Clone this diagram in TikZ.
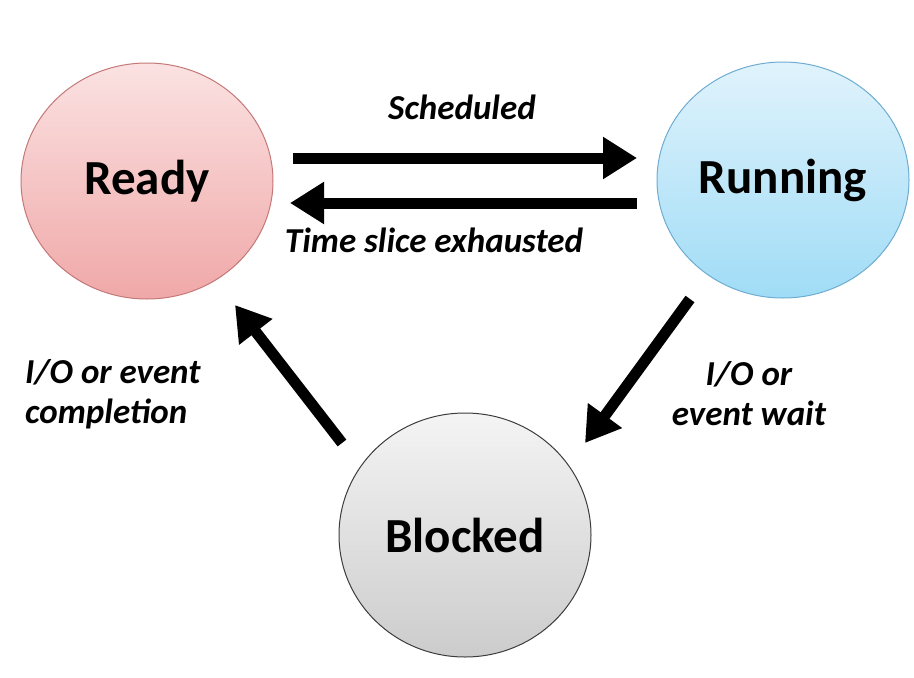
\documentclass[tikz,border=0pt]{standalone}
\usepackage{fontspec}
\setmainfont{Carlito}
\usetikzlibrary{arrows.meta,shapes.geometric}

\definecolor{readytop}{RGB}{251,226,226}
\definecolor{readybot}{RGB}{240,168,168}
\definecolor{readyline}{RGB}{196,120,120}
\definecolor{runtop}{RGB}{224,243,252}
\definecolor{runbot}{RGB}{160,220,246}
\definecolor{runline}{RGB}{110,172,210}
\definecolor{blocktop}{RGB}{244,244,244}
\definecolor{blockbot}{RGB}{204,204,204}
\definecolor{blockline}{RGB}{60,60,60}

\tikzset{
  state/.style={ellipse, draw, line width=1pt, inner sep=0pt,
    minimum width=252pt, minimum height=236pt,
    font=\fontsize{49}{55}\selectfont\bfseries},
  bigarrow/.style={line width=11pt, -{Triangle[length=34pt,width=40pt]}},
  lbl/.style={font=\fontsize{35}{40}\selectfont\bfseries\itshape, inner sep=0pt}
}

\begin{document}
\begin{tikzpicture}[x=1pt, y=-1pt]
    \useasboundingbox (0,0) rectangle (914,678);

    % the three states
    \node[state, draw=readyline, top color=readytop, bottom color=readybot] (ready) at (147,181) {Ready};
    \node[state, draw=runline, top color=runtop, bottom color=runbot] (running) at (783,180) {Running};
    \node[state, draw=blockline, top color=blocktop, bottom color=blockbot, minimum height=244pt] (blocked) at (465,535) {Blocked};

    % arrow ends
    \coordinate (schedA) at (293,158);
    \coordinate (schedB) at (637,158);
    \coordinate (sliceA) at (637,203);
    \coordinate (sliceB) at (290,203);
    \coordinate (waitA) at (690,299);
    \coordinate (waitB) at (585,443);
    \coordinate (doneA) at (342,443);
    \coordinate (doneB) at (235,305);

    % ready <-> running
    \draw[bigarrow] (schedA) -- (schedB);
    \draw[bigarrow] (sliceA) -- (sliceB);
    \node[lbl] (schedlbl) at (462,107) {Scheduled};
    \node[lbl] (slicelbl) at (434,240) {Time slice exhausted};

    % running to blocked
    \draw[bigarrow] (waitA) -- (waitB);
    \node[lbl, align=center] (waitlbl) at (749,394) {I/O or\\event wait};

    % blocked to ready
    \draw[bigarrow] (doneA) -- (doneB);
    \node[lbl, align=left, anchor=west] (donelbl) at (25,394) {I/O or event\\completion};
\end{tikzpicture}
\end{document}
